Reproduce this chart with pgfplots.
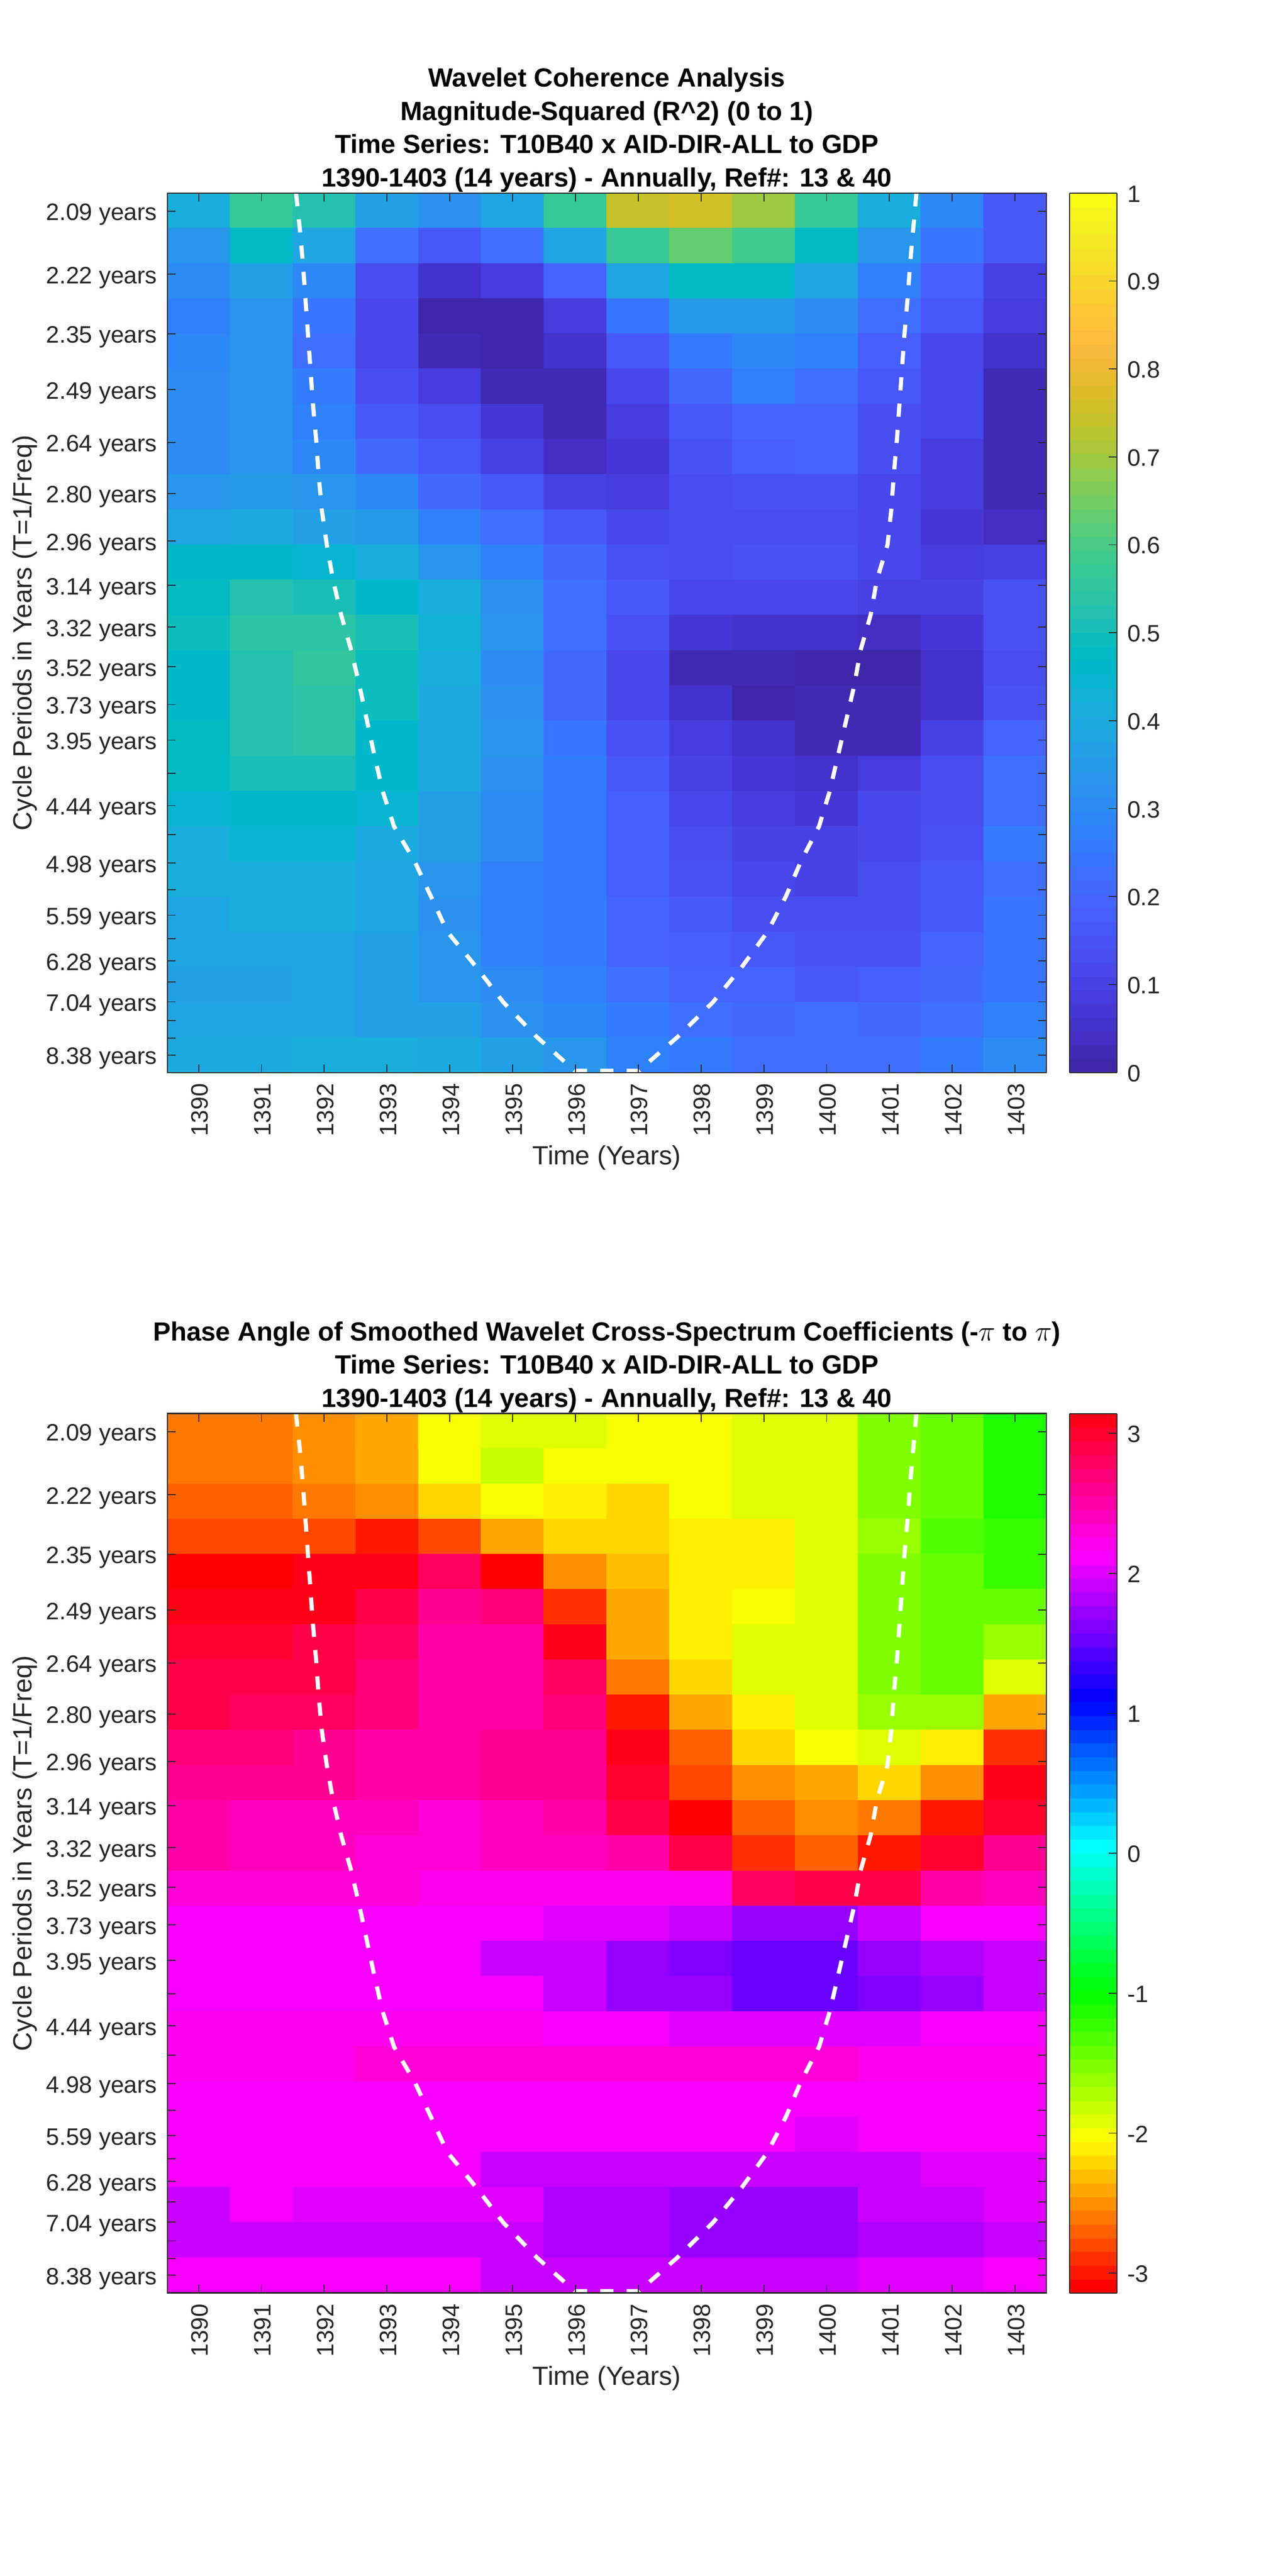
\documentclass[border=0pt]{standalone}
\usepackage{pgfplots}
\pgfplotsset{compat=1.18}
\usepackage{fontspec}
\setmainfont{Liberation Sans}
\definecolor{mgray}{rgb}{0.15,0.15,0.15}
\pgfplotsset{colormap={parulaM}{
rgb=(0.2422,0.1504,0.6603) rgb=(0.2504,0.1650,0.7076) rgb=(0.2578,0.1818,0.7511) rgb=(0.2647,0.1978,0.7952)
rgb=(0.2706,0.2147,0.8364) rgb=(0.2751,0.2342,0.8710) rgb=(0.2783,0.2559,0.8991) rgb=(0.2803,0.2782,0.9221)
rgb=(0.2813,0.3006,0.9414) rgb=(0.2810,0.3228,0.9579) rgb=(0.2795,0.3447,0.9717) rgb=(0.2760,0.3667,0.9829)
rgb=(0.2699,0.3892,0.9906) rgb=(0.2602,0.4123,0.9952) rgb=(0.2440,0.4358,0.9988) rgb=(0.2206,0.4603,0.9973)
rgb=(0.1963,0.4847,0.9892) rgb=(0.1834,0.5074,0.9798) rgb=(0.1786,0.5289,0.9682) rgb=(0.1764,0.5499,0.9520)
rgb=(0.1687,0.5703,0.9359) rgb=(0.1540,0.5902,0.9218) rgb=(0.1460,0.6091,0.9079) rgb=(0.1380,0.6276,0.8973)
rgb=(0.1248,0.6459,0.8883) rgb=(0.1113,0.6635,0.8763) rgb=(0.0952,0.6798,0.8598) rgb=(0.0689,0.6948,0.8394)
rgb=(0.0297,0.7082,0.8163) rgb=(0.0036,0.7203,0.7917) rgb=(0.0067,0.7312,0.7660) rgb=(0.0433,0.7411,0.7394)
rgb=(0.0964,0.7500,0.7120) rgb=(0.1408,0.7584,0.6842) rgb=(0.1717,0.7670,0.6554) rgb=(0.1938,0.7758,0.6251)
rgb=(0.2161,0.7843,0.5923) rgb=(0.2470,0.7918,0.5567) rgb=(0.2906,0.7973,0.5188) rgb=(0.3406,0.8008,0.4789)
rgb=(0.3909,0.8029,0.4354) rgb=(0.4456,0.8024,0.3909) rgb=(0.5044,0.7993,0.3480) rgb=(0.5616,0.7942,0.3045)
rgb=(0.6174,0.7876,0.2612) rgb=(0.6720,0.7793,0.2227) rgb=(0.7242,0.7698,0.1910) rgb=(0.7738,0.7598,0.1646)
rgb=(0.8203,0.7498,0.1535) rgb=(0.8634,0.7406,0.1596) rgb=(0.9035,0.7330,0.1774) rgb=(0.9393,0.7288,0.2100)
rgb=(0.9728,0.7298,0.2394) rgb=(0.9956,0.7434,0.2371) rgb=(0.9970,0.7659,0.2199) rgb=(0.9952,0.7893,0.2028)
rgb=(0.9892,0.8136,0.1885) rgb=(0.9786,0.8386,0.1766) rgb=(0.9676,0.8639,0.1643) rgb=(0.9610,0.8890,0.1537)
rgb=(0.9597,0.9135,0.1423) rgb=(0.9628,0.9373,0.1265) rgb=(0.9691,0.9606,0.1064) rgb=(0.9769,0.9839,0.0805)
}}
\pgfplotsset{colormap={hsvbase}{rgb(0)=(1,0,0) rgb(64)=(1,1,0) rgb(128)=(0,1,0) rgb(192)=(0,1,1) rgb(256)=(0,0,1) rgb(320)=(1,0,1) rgb(378)=(1,0,0.094)}}
\pgfplotsset{colormap={hsvM}{samples of colormap=(64 of hsvbase)}}
\pgfplotsset{wave/.style={
  scale only axis, width=533.4pt, height=533.6pt, anchor=south west,
  xmin=1389.5, xmax=1403.5, ymin=0.5, ymax=25.5, y dir=reverse,
  axis on top, tick align=inside, major tick length=5pt,
  axis line style={mgray,line width=0.7pt}, tick style={mgray,line width=0.6pt},
  xtick={1390,1391,1392,1393,1394,1395,1396,1397,1398,1399,1400,1401,1402,1403},
  xticklabels={1390,1391,1392,1393,1394,1395,1396,1397,1398,1399,1400,1401,1402,1403},
  ytick={1.015,2.81,4.50,6.09,7.59,9.04,10.39,11.65,12.84,13.97,15.04,16.05,17.00,17.91,18.74,19.55,20.31,21.03,21.69,22.33,22.92,23.49,24.02,24.52,25.00},
  yticklabels={2.09 years,2.22 years,2.35 years,2.49 years,2.64 years,2.80 years,2.96 years,3.14 years,3.32 years,3.52 years,3.73 years,3.95 years,,4.44 years,,4.98 years,,5.59 years,,6.28 years,,7.04 years,,,8.38 years},
  tick label style={font=\fontsize{14.4}{17}\selectfont, text=mgray, inner sep=0pt},
  yticklabel style={anchor=base east, xshift=-6pt, yshift=-5.65pt},
  xticklabel style={rotate=90, anchor=east, xshift=-6.5pt, yshift=-0.7pt},
  xlabel={Time (Years)}, ylabel={Cycle Periods in Years (T=1/Freq)},
  every axis x label/.style={at={(axis description cs:0.5,-0.097)}, anchor=center, font=\fontsize{15.95}{19}\selectfont, text=mgray},
  every axis y label/.style={at={(axis description cs:-0.162,0.5)}, rotate=90, anchor=center, font=\fontsize{15.95}{19}\selectfont, text=mgray},
  title style={font=\fontsize{15.95}{20.2}\selectfont\bfseries, align=center, at={(0.5,1)}, anchor=south, yshift=-9pt, text=black},
  colormap access=piecewise constant,
  colorbar, colorbar sampled,
  colorbar style={
    at={(1.0265,0)}, anchor=south west, scale only axis, width=28.75pt, height=533.6pt,
    samples=65, y dir=normal, xtick=\empty,
    ytick pos=right, yticklabel pos=right, tick align=inside, major tick length=5pt,
    axis line style={mgray,line width=0.6pt}, tick style={mgray,line width=0.5pt},
    yticklabel style={anchor=west, xshift=6pt, yshift=-0.5pt, font=\fontsize{14.4}{17}\selectfont, text=mgray, inner sep=0pt},
  },
}}
\def\coi{(1391.55,0.5)(1391.61,1.5)(1391.66,2.5)(1391.70,3.5)(1391.74,4.5)(1391.78,5.5)(1391.82,6.5)(1391.87,7.5)(1391.91,8.5)(1391.96,9.5)(1392.04,10.5)(1392.14,11.5)(1392.27,12.5)(1392.43,13.5)(1392.56,14.5)(1392.68,15.5)(1392.80,16.5)(1392.93,17.5)(1393.11,18.5)(1393.44,19.5)(1393.70,20.5)(1393.96,21.5)(1394.42,22.5)(1394.85,23.5)(1395.39,24.5)(1395.99,25.45)(1397.01,25.45)(1397.62,24.5)(1398.19,23.5)(1398.65,22.5)(1399.06,21.5)(1399.35,20.5)(1399.59,19.5)(1399.88,18.5)(1400.05,17.5)(1400.18,16.5)(1400.31,15.5)(1400.44,14.5)(1400.54,13.5)(1400.70,12.5)(1400.80,11.5)(1400.97,10.5)(1401.03,9.5)(1401.07,8.5)(1401.12,7.5)(1401.16,6.5)(1401.20,5.5)(1401.24,4.5)(1401.29,3.5)(1401.33,2.5)(1401.38,1.5)(1401.43,0.5)}
\begin{document}
\begin{tikzpicture}
\path[use as bounding box] (0,0) rectangle (781.25pt,1563pt);
\begin{axis}[wave, at={(101.5pt,912.25pt)},
  title={Wavelet Coherence Analysis\\Magnitude-Squared (R\textasciicircum 2) (0 to 1)\\Time Series: T10B40 x AID-DIR-ALL to GDP\\1390-1403 (14 years) - Annually, Ref\#: 13 \& 40},
  colormap name=parulaM, point meta min=0, point meta max=1,
  colorbar style={ytick={0,0.1,0.2,0.3,0.4,0.5,0.6,0.7,0.8,0.9,1}, yticklabels={0,0.1,0.2,0.3,0.4,0.5,0.6,0.7,0.8,0.9,1}},
]
\addplot[matrix plot*, mesh/cols=14, point meta=explicit] table[row sep=\\, header=false, x expr={1390+mod(\coordindex,14)}, y expr={1+floor((\coordindex+0.5)/14)}, meta index=0]{
.41\\.57\\.52\\.37\\.32\\.39\\.57\\.74\\.76\\.70\\.57\\.42\\.29\\.17\\
.34\\.47\\.39\\.22\\.17\\.22\\.39\\.57\\.64\\.58\\.47\\.33\\.24\\.16\\
.31\\.37\\.29\\.14\\.06\\.08\\.20\\.39\\.48\\.47\\.38\\.28\\.18\\.10\\
.28\\.33\\.24\\.11\\.01\\.01\\.09\\.24\\.35\\.35\\.31\\.22\\.16\\.08\\
.29\\.33\\.23\\.11\\.03\\.01\\.05\\.16\\.26\\.29\\.27\\.18\\.12\\.05\\
.31\\.33\\.26\\.14\\.08\\.03\\.03\\.12\\.21\\.27\\.22\\.17\\.11\\.03\\
.31\\.33\\.27\\.17\\.13\\.07\\.02\\.08\\.16\\.20\\.19\\.14\\.11\\.03\\
.31\\.33\\.29\\.21\\.16\\.10\\.045\\.07\\.15\\.18\\.19\\.14\\.09\\.03\\
.34\\.35\\.33\\.29\\.21\\.16\\.10\\.09\\.13\\.15\\.15\\.12\\.09\\.02\\
.39\\.40\\.37\\.35\\.28\\.22\\.16\\.12\\.13\\.14\\.14\\.12\\.07\\.045\\
.46\\.46\\.45\\.42\\.34\\.28\\.21\\.15\\.14\\.15\\.15\\.12\\.09\\.10\\
.48\\.53\\.50\\.46\\.41\\.32\\.22\\.16\\.12\\.12\\.12\\.10\\.10\\.15\\
.49\\.54\\.54\\.50\\.43\\.34\\.22\\.15\\.07\\.05\\.05\\.04\\.07\\.15\\
.46\\.53\\.56\\.49\\.42\\.31\\.21\\.12\\.03\\.02\\.005\\.01\\.05\\.13\\
.46\\.53\\.54\\.49\\.40\\.32\\.21\\.12\\.05\\.01\\.02\\.03\\.06\\.15\\
.47\\.53\\.54\\.46\\.40\\.33\\.24\\.15\\.08\\.05\\.03\\.03\\.10\\.20\\
.47\\.51\\.51\\.46\\.40\\.32\\.25\\.16\\.10\\.07\\.05\\.09\\.13\\.22\\
.44\\.46\\.46\\.44\\.37\\.31\\.25\\.18\\.12\\.09\\.07\\.11\\.14\\.23\\
.41\\.45\\.45\\.40\\.36\\.31\\.25\\.18\\.14\\.10\\.10\\.11\\.15\\.25\\
.41\\.42\\.42\\.39\\.34\\.28\\.25\\.18\\.15\\.11\\.10\\.13\\.16\\.23\\
.39\\.41\\.41\\.38\\.32\\.27\\.25\\.19\\.16\\.14\\.13\\.14\\.17\\.24\\
.38\\.39\\.39\\.37\\.33\\.27\\.25\\.20\\.18\\.16\\.15\\.15\\.19\\.24\\
.36\\.36\\.38\\.37\\.33\\.30\\.27\\.22\\.20\\.19\\.17\\.18\\.21\\.24\\
.39\\.39\\.39\\.37\\.36\\.32\\.29\\.25\\.23\\.21\\.22\\.21\\.23\\.28\\
.40\\.40\\.41\\.41\\.40\\.37\\.34\\.28\\.25\\.23\\.23\\.23\\.25\\.30\\
};
\addplot[white, line width=2.5pt, dash pattern=on 8pt off 8pt, forget plot] coordinates {\coi};
\end{axis}
\begin{axis}[wave, at={(101.5pt,171.75pt)},
  title={Phase Angle of Smoothed Wavelet Cross-Spectrum Coefficients (-$\pi$ to $\pi$)\\Time Series: T10B40 x AID-DIR-ALL to GDP\\1390-1403 (14 years) - Annually, Ref\#: 13 \& 40},
  colormap name=hsvM, point meta min=-3.14159, point meta max=3.14159,
  colorbar style={ytick={-3,-2,-1,0,1,2,3}, yticklabels={-3,-2,-1,0,1,2,3}},
]
\addplot[matrix plot*, mesh/cols=14, point meta=explicit] table[row sep=\\, header=false, x expr={1390+mod(\coordindex,14)}, y expr={1+floor((\coordindex+0.5)/14)}, meta index=0]{
-2.63\\-2.63\\-2.52\\-2.36\\-2.05\\-1.93\\-1.93\\-2.05\\-2.05\\-1.95\\-1.87\\-1.57\\-1.38\\-1.13\\
-2.63\\-2.63\\-2.52\\-2.36\\-2.05\\-1.83\\-2.05\\-2.05\\-2.05\\-1.95\\-1.87\\-1.57\\-1.38\\-1.13\\
-2.72\\-2.72\\-2.63\\-2.52\\-2.18\\-1.97\\-2.09\\-2.20\\-2.05\\-1.95\\-1.87\\-1.57\\-1.38\\-1.13\\
-2.83\\-2.83\\-2.83\\-2.97\\-2.83\\-2.43\\-2.25\\-2.25\\-2.15\\-2.09\\-1.87\\-1.60\\-1.30\\-1.22\\
-3.05\\-3.05\\3.14\\3.06\\2.82\\-3.08\\-2.55\\-2.30\\-2.15\\-2.09\\-1.87\\-1.57\\-1.38\\-1.25\\
3.14\\3.14\\3.05\\2.90\\2.57\\2.70\\-2.85\\-2.36\\-2.15\\-2.05\\-1.87\\-1.57\\-1.38\\-1.47\\
3.00\\2.95\\2.90\\2.75\\2.47\\2.47\\3.06\\-2.43\\-2.15\\-1.93\\-1.87\\-1.57\\-1.38\\-1.65\\
2.92\\2.90\\2.85\\2.67\\2.47\\2.47\\2.80\\-2.65\\-2.25\\-1.93\\-1.87\\-1.57\\-1.45\\-1.87\\
2.87\\2.82\\2.75\\2.65\\2.47\\2.47\\2.72\\-2.95\\-2.43\\-2.09\\-1.87\\-1.65\\-1.65\\-2.36\\
2.72\\2.67\\2.57\\2.52\\2.50\\2.57\\2.62\\3.14\\-2.68\\-2.25\\-2.05\\-1.90\\-2.15\\-2.88\\
2.63\\2.60\\2.58\\2.54\\2.50\\2.57\\2.63\\2.97\\-2.83\\-2.50\\-2.36\\-2.22\\-2.50\\3.14\\
2.55\\2.43\\2.43\\2.43\\2.30\\2.42\\2.50\\2.90\\-3.12\\-2.72\\-2.52\\-2.63\\-2.95\\2.97\\
2.52\\2.42\\2.42\\2.35\\2.33\\2.40\\2.40\\2.55\\2.93\\-2.93\\-2.72\\-2.95\\2.97\\2.60\\
2.28\\2.28\\2.28\\2.28\\2.18\\2.18\\2.18\\2.18\\2.25\\2.80\\2.90\\2.85\\2.47\\2.42\\
2.13\\2.13\\2.13\\2.13\\2.09\\2.09\\1.98\\1.98\\1.88\\1.76\\1.76\\1.95\\2.07\\2.11\\
2.13\\2.13\\2.09\\2.09\\2.09\\1.93\\1.93\\1.73\\1.60\\1.48\\1.48\\1.72\\1.78\\1.90\\
2.10\\2.10\\2.10\\2.10\\2.10\\2.09\\1.88\\1.76\\1.72\\1.55\\1.55\\1.63\\1.76\\1.90\\
2.16\\2.16\\2.16\\2.16\\2.16\\2.16\\2.07\\2.07\\1.98\\1.98\\1.98\\1.98\\2.10\\2.10\\
2.18\\2.18\\2.18\\2.28\\2.28\\2.28\\2.28\\2.28\\2.28\\2.28\\2.28\\2.20\\2.20\\2.20\\
2.14\\2.14\\2.14\\2.14\\2.14\\2.14\\2.14\\2.14\\2.14\\2.14\\2.14\\2.14\\2.14\\2.14\\
2.09\\2.12\\2.12\\2.12\\2.10\\2.10\\2.10\\2.10\\2.10\\2.10\\2.00\\2.12\\2.12\\2.12\\
2.09\\2.09\\2.09\\2.09\\2.09\\1.95\\1.95\\1.95\\1.88\\1.88\\1.88\\1.88\\1.97\\1.97\\
1.93\\2.07\\1.97\\1.97\\1.97\\1.97\\1.85\\1.85\\1.76\\1.76\\1.76\\1.88\\1.88\\1.97\\
1.93\\1.93\\1.93\\1.93\\1.93\\1.93\\1.83\\1.83\\1.76\\1.76\\1.76\\1.83\\1.83\\1.93\\
2.07\\2.07\\2.07\\2.07\\2.07\\1.93\\1.93\\1.93\\1.88\\1.88\\1.88\\1.97\\1.97\\2.07\\
};
\addplot[white, line width=2.5pt, dash pattern=on 8pt off 8pt, forget plot] coordinates {\coi};
\end{axis}
\end{tikzpicture}
\end{document}
